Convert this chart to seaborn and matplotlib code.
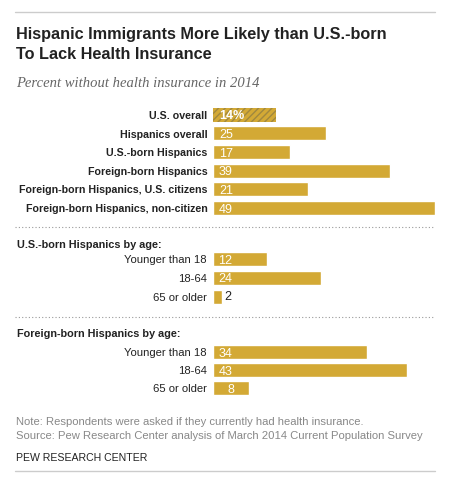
import matplotlib
matplotlib.use("Agg")
import matplotlib.pyplot as plt
import seaborn as sns

categories = ["U.S. overall", "Hispanics overall", "U.S.-born Hispanics",
              "Foreign-born Hispanics", "Foreign-born Hispanics, U.S. citizens",
              "Foreign-born Hispanics, non-citizen"]
values = [14, 25, 17, 39, 21, 49]

age_groups = ["Younger than 18", "18-64", "65 or older"]
us_born_by_age = [12, 24, 2]
foreign_born_by_age = [34, 43, 8]

sns.set_style("white")
plt.rcParams["font.family"] = ["Liberation Sans", "DejaVu Sans"]
plt.rcParams["hatch.linewidth"] = 1.0

W, H = 454, 486
gold = "#d3a935"
dark = "#222222"
fig = plt.figure(figsize=(W / 100, H / 100), dpi=100)


def px_axes(x0, y0, x1, y1):
    return fig.add_axes([x0 / W, 1 - y1 / H, (x1 - x0) / W, (y1 - y0) / H])


def bar_panel(ax, cats, vals, bold, first_pct=False):
    sns.barplot(x=vals, y=cats, orient="h", color=gold, saturation=1,
                width=0.75, ax=ax)
    ax.set_xlim(0, 49)
    ax.set_ylim(len(cats) - 0.5, -0.5)
    for s in ax.spines.values():
        s.set_visible(False)
    ax.set_xticks([])
    ax.set_xlabel("")
    ax.set_ylabel("")
    ax.tick_params(axis="y", length=0, pad=4)
    for lab in ax.get_yticklabels():
        lab.set_fontsize(7.7 if bold else 8.1)
        lab.set_fontweight("bold" if bold else "normal")
        lab.set_color(dark)
    for i, v in enumerate(vals):
        pct = first_pct and i == 0
        txt = f"{v}%" if pct else str(v)
        if v < 4:
            ax.text(v + 0.7, i - 0.1, txt, va="center_baseline", ha="left",
                    fontsize=9, color=dark)
        elif v < 10:
            ax.text(v / 2, i, txt, va="center_baseline", ha="center",
                    fontsize=9, color="white")
        else:
            ax.text(1.3, i, txt, va="center_baseline", ha="left", fontsize=9,
                    color="white", fontweight="bold" if pct else "normal")
    return ax


ax1 = px_axes(213, 105.5, 435, 217.5)
bar_panel(ax1, categories, values, bold=True, first_pct=True)
p = ax1.patches[0]
p.set_hatch("/////")
p.set_edgecolor("#a0883f")
p.set_linewidth(0)

ax2 = px_axes(212.5, 249.5, 434.5, 306.5)
bar_panel(ax2, age_groups, us_born_by_age, bold=False)

ax3 = px_axes(212.5, 343, 434.5, 397)
bar_panel(ax3, age_groups, foreign_born_by_age, bold=False)


def ftext(x, y, s, **kw):
    fig.text(x / W, 1 - y / H, s, **kw)


def hline(y, x0=15, x1=435, **kw):
    fig.add_artist(plt.Line2D([x0 / W, x1 / W], [1 - y / H, 1 - y / H], **kw))


hline(12, color="#cccccc", lw=1)
hline(471, color="#cccccc", lw=1)
hline(227, x1=433, color="#999999", lw=0.8, linestyle=(0, (1, 2)))
hline(317, x1=433, color="#999999", lw=0.8, linestyle=(0, (1, 2)))

ftext(16, 33, "Hispanic Immigrants More Likely than U.S.-born", fontsize=11.7,
      fontweight="bold", va="center_baseline", color=dark)
ftext(16, 53, "To Lack Health Insurance", fontsize=11.7,
      fontweight="bold", va="center_baseline", color=dark)
ftext(16, 82, "Percent without health insurance in 2014", fontsize=10.5,
      style="italic", family="Liberation Serif", va="center_baseline",
      color="#666666")
ftext(17, 244, "U.S.-born Hispanics by age:", fontsize=7.8, fontweight="bold",
      va="center_baseline", color=dark)
ftext(17, 333, "Foreign-born Hispanics by age:", fontsize=7.8, fontweight="bold",
      va="center_baseline", color=dark)
ftext(16, 421, "Note: Respondents were asked if they currently had health insurance.",
      fontsize=8.1, va="center_baseline", color="#888888")
ftext(16, 435, "Source: Pew Research Center analysis of March 2014 Current Population Survey",
      fontsize=8.1, va="center_baseline", color="#888888")
ftext(16, 457, "PEW RESEARCH CENTER", fontsize=7.6, va="center_baseline",
      color=dark)

fig.savefig("out.png", dpi=100)
